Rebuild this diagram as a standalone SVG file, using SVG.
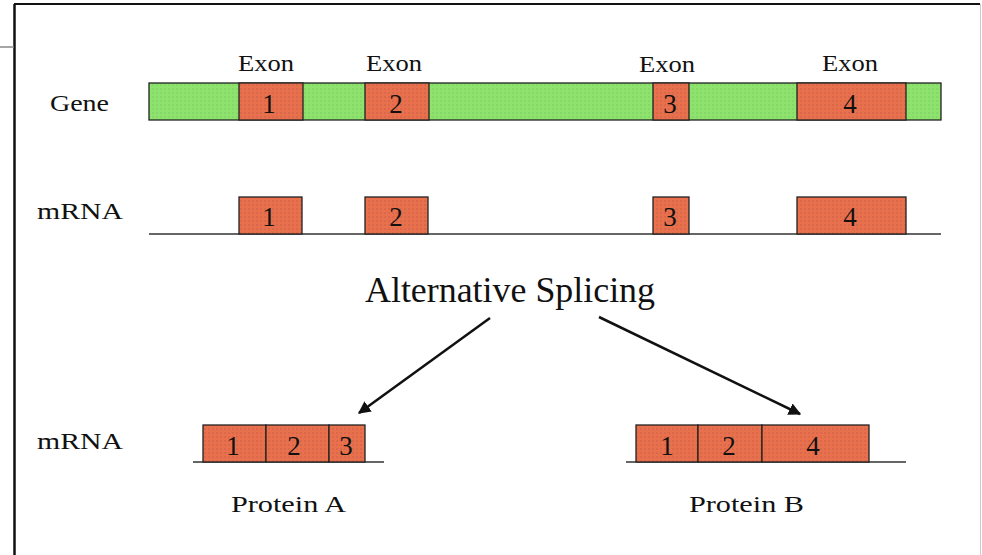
<svg xmlns="http://www.w3.org/2000/svg" width="982" height="555" viewBox="0 0 982 555">
<defs>
<pattern id="pOr" width="4" height="4" patternUnits="userSpaceOnUse">
<rect width="4" height="4" fill="#e8704c"/>
<rect x="0" y="0" width="2" height="2" fill="#d9694a"/>
</pattern>
<pattern id="pGr" width="4" height="4" patternUnits="userSpaceOnUse">
<rect width="4" height="4" fill="#8ee36e"/>
<rect x="0" y="0" width="2" height="2" fill="#86d868"/>
</pattern>
<marker id="ah" viewBox="0 0 10 10" refX="9" refY="5" markerWidth="5" markerHeight="5" orient="auto" markerUnits="strokeWidth">
<path d="M0,0 L10,5 L0,10 z" fill="#111"/>
</marker>
</defs>
<style>
text{font-family:"Liberation Serif",Tinos,"Noto Serif","DejaVu Serif",FreeSerif,Times,serif;fill:#111}
.lbl{font-size:24px}
.ex{font-size:24px;text-anchor:middle}
.num{font-size:27px;text-anchor:middle}
.gr{fill:url(#pGr);stroke:#222;stroke-width:1.3}
.or{fill:url(#pOr);stroke:#222;stroke-width:1.3}
.base{stroke:#333;stroke-width:1.5}
.arr{stroke:#111;stroke-width:2.5;fill:none;marker-end:url(#ah)}
</style>
<rect width="982" height="555" fill="#fff"/>
<g id="frame">
<line x1="14.5" y1="4" x2="14.5" y2="555" stroke="#111" stroke-width="2.5"/>
<line x1="14" y1="4" x2="980" y2="4" stroke="#111" stroke-width="2"/>
<line x1="980.5" y1="4" x2="980.5" y2="555" stroke="#ccc" stroke-width="1"/>
<line x1="0" y1="47" x2="14" y2="47" stroke="#888" stroke-width="1.5"/>
</g>
<g id="gene">
<text class="lbl" x="50" y="111" textLength="59" lengthAdjust="spacingAndGlyphs">Gene</text>
<rect class="gr" x="149" y="83" width="792" height="37"/>
<rect class="or" x="239" y="83" width="64" height="37"/>
<rect class="or" x="365" y="83" width="64" height="37"/>
<rect class="or" x="653" y="83" width="36" height="37"/>
<rect class="or" x="797" y="83" width="109" height="37"/>
<text class="ex" x="266" y="71" textLength="56" lengthAdjust="spacingAndGlyphs">Exon</text>
<text class="ex" x="394" y="71" textLength="56" lengthAdjust="spacingAndGlyphs">Exon</text>
<text class="ex" x="667" y="72" textLength="56" lengthAdjust="spacingAndGlyphs">Exon</text>
<text class="ex" x="850" y="71" textLength="56" lengthAdjust="spacingAndGlyphs">Exon</text>
<text class="num" x="269" y="113">1</text>
<text class="num" x="396" y="113">2</text>
<text class="num" x="670" y="113">3</text>
<text class="num" x="850" y="113">4</text>
</g>
<g id="mrna1">
<text class="lbl" x="37" y="219" textLength="86" lengthAdjust="spacingAndGlyphs">mRNA</text>
<line class="base" x1="149" y1="234" x2="941" y2="234"/>
<rect class="or" x="239" y="197" width="63" height="37"/>
<rect class="or" x="365" y="197" width="63" height="37"/>
<rect class="or" x="653" y="197" width="36" height="37"/>
<rect class="or" x="797" y="197" width="109" height="37"/>
<text class="num" x="269" y="226">1</text>
<text class="num" x="396" y="226">2</text>
<text class="num" x="670" y="226">3</text>
<text class="num" x="850" y="226">4</text>
</g>
<g id="splicing">
<text x="365" y="302" font-size="36" textLength="290" lengthAdjust="spacingAndGlyphs">Alternative Splicing</text>
</g>
<g id="connectors">
<line class="arr" x1="490" y1="318" x2="359" y2="413"/>
<line class="arr" x1="599" y1="317" x2="800" y2="414"/>
</g>
<g id="mrnaA">
<text class="lbl" x="37" y="449" textLength="86" lengthAdjust="spacingAndGlyphs">mRNA</text>
<line class="base" x1="193" y1="462" x2="384" y2="462"/>
<rect class="or" x="203" y="425" width="63" height="37"/>
<rect class="or" x="266" y="425" width="63" height="37"/>
<rect class="or" x="329" y="425" width="36" height="37"/>
<text class="num" x="233" y="455">1</text>
<text class="num" x="294" y="455">2</text>
<text class="num" x="346" y="455">3</text>
<text class="lbl" x="231" y="512" textLength="115" lengthAdjust="spacingAndGlyphs">Protein A</text>
</g>
<g id="mrnaB">
<line class="base" x1="626" y1="462" x2="906" y2="462"/>
<rect class="or" x="636" y="425" width="62" height="37"/>
<rect class="or" x="698" y="425" width="64" height="37"/>
<rect class="or" x="762" y="425" width="107" height="37"/>
<text class="num" x="667" y="455">1</text>
<text class="num" x="729" y="455">2</text>
<text class="num" x="813" y="455">4</text>
<text class="lbl" x="689" y="512" textLength="115" lengthAdjust="spacingAndGlyphs">Protein B</text>
</g>
</svg>
